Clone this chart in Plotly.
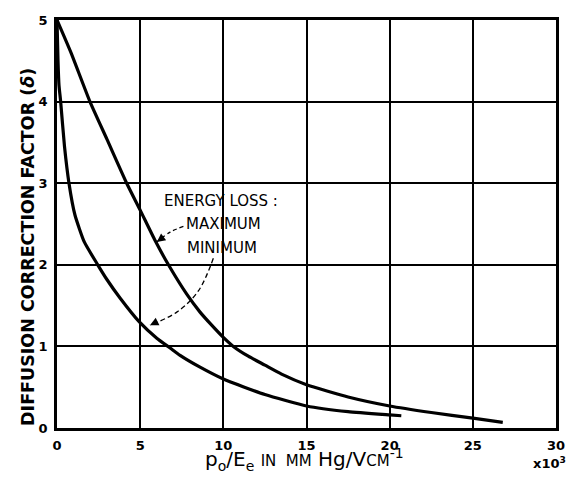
import plotly.graph_objects as go

# Data (x in units of 10^3 mm Hg / V cm^-1)
max_x = [0, 0.84, 1.98, 3.0, 4.19, 5.0, 5.89, 6.7, 7.8, 8.6, 9.3, 10.0, 10.6, 11.5, 12.5, 13.5, 15.0, 17.5, 20.0, 22.5, 25.0, 26.8]
max_y = [5.0, 4.6, 4.0, 3.54, 3.0, 2.67, 2.30, 2.0, 1.64, 1.42, 1.26, 1.11, 1.0, 0.88, 0.77, 0.66, 0.53, 0.38, 0.27, 0.19, 0.12, 0.07]

min_x = [0, 0.06, 0.12, 0.22, 0.45, 0.72, 1.08, 1.64, 2.45, 3.0, 3.8, 4.95, 6.0, 6.8, 7.4, 8.6, 10.0, 12.5, 15.0, 17.5, 20.0, 20.7]
min_y = [5.0, 4.5, 4.2, 4.0, 3.45, 3.0, 2.61, 2.28, 2.0, 1.82, 1.59, 1.30, 1.10, 0.98, 0.89, 0.745, 0.60, 0.41, 0.27, 0.20, 0.16, 0.15]

x_ticks = [0, 5, 10, 15, 20, 25, 30]
x_ticklabels = ["0", "5", "10", "15", "20", "25", "30"]
y_ticks = [0, 1, 2, 3, 4, 5]
y_ticklabels = ["0", "1", "2", "3", "4", "5"]

# Leader arrows (annotation geometry, tail -> head)
max_arrow_x = [7.6, 6.8, 6.0]
max_arrow_y = [2.47, 2.40, 2.28]
min_arrow_x = [9.4, 8.5, 7.2, 5.59]
min_arrow_y = [2.08, 1.68, 1.42, 1.26]

FONT = "DejaVu Sans"

fig = go.Figure()
fig.add_trace(go.Scatter(x=max_x, y=max_y, mode="lines",
                         line=dict(color="black", width=3.2, shape="spline", smoothing=0.5),
                         hoverinfo="skip", showlegend=False))
fig.add_trace(go.Scatter(x=min_x, y=min_y, mode="lines",
                         line=dict(color="black", width=3.2, shape="spline", smoothing=0.5),
                         hoverinfo="skip", showlegend=False))
# dashed leaders
fig.add_trace(go.Scatter(x=max_arrow_x, y=max_arrow_y, mode="lines",
                         line=dict(color="black", width=1.3, dash="4px,3px", shape="spline"),
                         hoverinfo="skip", showlegend=False))
fig.add_trace(go.Scatter(x=min_arrow_x, y=min_arrow_y, mode="lines",
                         line=dict(color="black", width=1.3, dash="5px,3px", shape="spline"),
                         hoverinfo="skip", showlegend=False))

annos = []
# arrowheads
for xs, ys in [(max_arrow_x, max_arrow_y), (min_arrow_x, min_arrow_y)]:
    annos.append(dict(x=xs[-1], y=ys[-1], ax=xs[-1] + (xs[-2] - xs[-1]) * 0.3,
                      ay=ys[-1] + (ys[-2] - ys[-1]) * 0.3,
                      xref="x", yref="y", axref="x", ayref="y",
                      showarrow=True, arrowhead=2, arrowsize=1.3, arrowwidth=1.3,
                      arrowcolor="black", text=""))

text_font = dict(family=FONT, size=15, color="black")
annos.append(dict(x=9.84, y=2.78, xref="x", yref="y", text="ENERGY LOSS :", showarrow=False, font=text_font))
annos.append(dict(x=9.98, y=2.50, xref="x", yref="y", text="MAXIMUM", showarrow=False, font=text_font))
annos.append(dict(x=9.92, y=2.21, xref="x", yref="y", text="MINIMUM", showarrow=False, font=text_font))

# axis titles
annos.append(dict(x=-0.058, y=0.444, xref="paper", yref="paper", textangle=-90,
                  xanchor="center", yanchor="middle",
                  text="DIFFUSION CORRECTION FACTOR (<i>δ</i>)", showarrow=False,
                  font=dict(family=FONT, size=17.5, color="black", weight="bold")))
annos.append(dict(x=0.495, y=-0.078, xref="paper", yref="paper",
                  xanchor="center", yanchor="middle",
                  text="p<sub>o</sub>/E<sub>e</sub> <span style='font-size:15px'>IN  MM</span> Hg/V<span style='font-size:15px'>CM</span><sup>-1</sup>",
                  showarrow=False, font=dict(family=FONT, size=20, color="black")))
annos.append(dict(x=0.986, y=-0.086, xref="paper", yref="paper", text="x10<sup>3</sup>",
                  xanchor="center", yanchor="middle",
                  showarrow=False, font=dict(family=FONT, size=13, color="black", weight="bold")))

fig.update_layout(
    width=566, height=470,
    margin=dict(l=49, r=18, t=12, b=50, autoexpand=False),
    plot_bgcolor="white", paper_bgcolor="white",
    annotations=annos,
    showlegend=False,
)
fig.update_xaxes(range=[0, 30], tickvals=x_ticks, ticktext=x_ticklabels,
                 showgrid=True, gridcolor="black", gridwidth=1.5,
                 showline=True, linecolor="black", linewidth=2.5, mirror=True,
                 ticks="", ticklabelstandoff=4, zeroline=False, automargin=False,
                 tickfont=dict(family=FONT, size=13, color="black", weight="bold"))
fig.update_yaxes(range=[0, 5], tickvals=y_ticks, ticktext=y_ticklabels,
                 showgrid=True, gridcolor="black", gridwidth=1.5,
                 showline=True, linecolor="black", linewidth=2.5, mirror=True,
                 ticks="", ticklabelstandoff=4, zeroline=False, automargin=False,
                 tickfont=dict(family=FONT, size=13, color="black", weight="bold"))

fig.write_html("out.html")
